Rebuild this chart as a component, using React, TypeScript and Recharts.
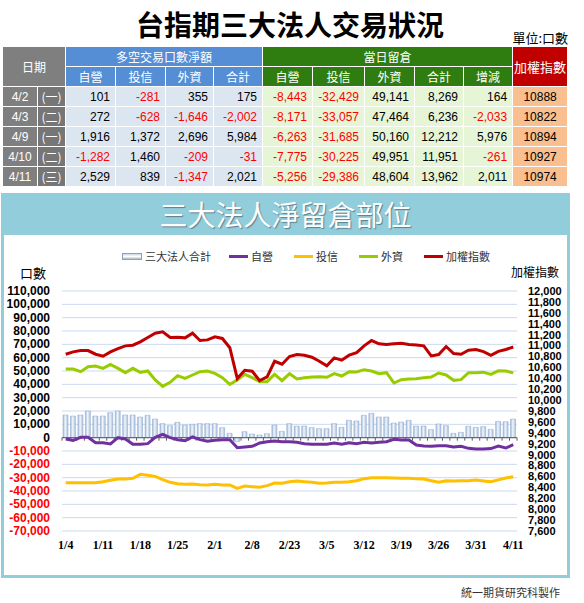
import { ComposedChart, Bar, Line, XAxis, YAxis, CartesianGrid, ReferenceLine } from "recharts"

// table (last five sessions)
const tableDates = ["4/2", "4/3", "4/9", "4/10", "4/11"]
const tableWeekdays = ["(一)", "(二)", "(一)", "(二)", "(三)"]
const netDealer = [101, 272, 1916, -1282, 2529]
const netTrust = [-281, -628, 1372, 1460, 839]
const netForeign = [355, -1646, 2696, -209, -1347]
const netTotal = [175, -2002, 5984, -31, 2021]
const oiDealer = [-8443, -8171, -6263, -7775, -5256]
const oiTrust = [-32429, -33057, -31685, -30225, -29386]
const oiForeign = [49141, 47464, 50160, 49951, 48604]
const oiTotal = [8269, 6236, 12212, 11951, 13962]
const oiChange = [164, -2033, 5976, -261, 2011]
const tableIndex = [10888, 10822, 10894, 10927, 10974]

// chart series, 1/4 .. 4/11
const dates = [
	"1/4", "1/5", "1/8", "1/9", "1/10", "1/11", "1/12", "1/15", "1/16", "1/17",
	"1/18", "1/19", "1/22", "1/23", "1/24", "1/25", "1/26", "1/29", "1/30", "1/31",
	"2/1", "2/2", "2/5", "2/6", "2/7", "2/8", "2/9", "2/12", "2/21", "2/22",
	"2/23", "2/26", "2/27", "3/1", "3/2", "3/5", "3/6", "3/7", "3/8", "3/9",
	"3/12", "3/13", "3/14", "3/15", "3/16", "3/19", "3/20", "3/21", "3/22", "3/23",
	"3/26", "3/27", "3/28", "3/29", "3/30", "3/31", "4/2", "4/3", "4/9", "4/10",
	"4/11",
]
const totalOI = [
	17000, 16250, 17000, 20000, 16250, 16250, 18750, 20000, 17000, 17000,
	15500, 16750, 14000, 10500, 9000, 11500, 9500, 10000, 10500, 10500,
	10500, 7500, 3250, -3000, 4500, 2750, 2000, 3000, 9500, 4750,
	10500, 8750, 8750, 7500, 6750, 6750, 10500, 7750, 13000, 12500,
	16750, 18250, 15500, 15500, 11000, 11750, 13000, 8750, 8750, 6000,
	10250, 9000, 3250, 4000, 8500, 7750, 8269, 6236, 12212, 11951,
	13962,
]
const dealerOI = [
	-1000, -2000, 250, 250, -3750, -3750, -4750, 0, -1000, -5000,
	-5000, -4500, 250, 2500, 0, -1500, -2250, 500, -1500, -2750,
	-2000, -1500, -1500, -7500, -7000, -6500, -4000, -3000, -2500, -3000,
	-3000, -3500, -4500, -5000, -5000, -5000, -4000, -5000, -3750, -4500,
	-3500, -4000, -3500, -3000, -1250, -1750, -1750, -5500, -6250, -6500,
	-6000, -6000, -7000, -6500, -8000, -8500, -8443, -8171, -6263, -7775,
	-5256,
]
const trustOI = [
	-33750, -33750, -33750, -33750, -33750, -33000, -32000, -31000, -31000, -30500,
	-27500, -28250, -29000, -31500, -33500, -34500, -35000, -34750, -35250, -35500,
	-35000, -35500, -35500, -38000, -36250, -36750, -37250, -36000, -34000, -34250,
	-33000, -32500, -33000, -33500, -34250, -34000, -33500, -33500, -33000, -32250,
	-30750, -30000, -30000, -30000, -30250, -30500, -30500, -30750, -31000, -32250,
	-33500, -32250, -32500, -32250, -32250, -31750, -32429, -33057, -31685, -30225,
	-29386,
]
const foreignOI = [
	51500, 51500, 49500, 53250, 53750, 52000, 55000, 52000, 48750, 52000,
	49000, 50000, 43250, 38500, 41500, 46500, 44500, 47000, 49500, 50000,
	48250, 45000, 40000, 43250, 47500, 45000, 42000, 42000, 47500, 42750,
	48000, 44000, 45000, 45500, 45750, 45250, 48000, 46250, 49500, 49250,
	51000, 50000, 48000, 48750, 41000, 43500, 44000, 44250, 45000, 45500,
	48500, 47000, 43000, 43500, 48750, 48750, 49141, 47464, 50160, 49951,
	48604,
]
const taiex = [
	10841, 10884, 10908, 10908, 10841, 10804, 10884, 10945, 10994, 11006,
	11067, 11147, 11226, 11251, 11147, 11153, 11141, 11226, 11092, 11104,
	11159, 11130, 10960, 10394, 10547, 10529, 10357, 10425, 10712, 10657,
	10798, 10835, 10823, 10786, 10712, 10627, 10774, 10731, 10823, 10871,
	10994, 11092, 11031, 11018, 11031, 11043, 11018, 11012, 10994, 10810,
	10835, 10982, 10853, 10841, 10914, 10927, 10888, 10822, 10894, 10927,
	10974,
]

const leftTicks = [
	-70000, -60000, -50000, -40000, -30000, -20000, -10000, 0, 10000, 20000,
	30000, 40000, 50000, 60000, 70000, 80000, 90000, 100000, 110000,
]
const rightTicks = [
	7600, 7800, 8000, 8200, 8400, 8600, 8800, 9000, 9200, 9400, 9600, 9800,
	10000, 10200, 10400, 10600, 10800, 11000, 11200, 11400, 11600, 11800, 12000,
]

const data = dates.map((date, i) => ({
	date,
	total: totalOI[i],
	dealer: dealerOI[i],
	trust: trustOI[i],
	foreign: foreignOI[i],
	index: taiex[i],
}))

const CJK = '"Noto Sans CJK TC", "Noto Sans", sans-serif'
const NUM = '"Liberation Sans", Arial, sans-serif'

const fmt = (v: number) => v.toLocaleString("en-US")

function LeftTick({ x, y, payload }: any) {
	const v = payload.value
	return (
		<text x={x} y={y} dy={4} textAnchor="end" fontSize={12} fontWeight="bold"
			fontFamily={NUM} fill={v < 0 ? "#FF0000" : "#000"}>
			{fmt(v)}
		</text>
	)
}

// zero line with small category tick marks under it
function ZeroAxis(props: any) {
	const { x1, y1, x2 } = props
	const step = (x2 - x1) / dates.length
	return (
		<g>
			<line x1={x1} y1={y1} x2={x2} y2={y1} stroke="#595959" strokeWidth={1} />
			{dates.map((d, k) => (
				<line key={d} x1={x1 + k * step} x2={x1 + k * step} y1={y1} y2={y1 + 3} stroke="#595959" />
			))}
			<line x1={x2} x2={x2} y1={y1} y2={y1 + 3} stroke="#595959" />
		</g>
	)
}

const BLUE = "#558ED5"
const GREEN = "#2F7D10"
const GRAY = "#7F7F7F"
const head = { color: "#fff", textAlign: "center" as const, fontFamily: CJK, fontSize: 12, border: "1px solid #fff", padding: 0 }
const cell = (bg: string, v: number, align: "right" | "center" = "right") => ({
	background: bg,
	color: v < 0 ? "#FF0000" : "#000",
	textAlign: align,
	fontFamily: NUM,
	fontSize: 12,
	padding: "0 5px",
	border: "1px solid #fff",
})

function Table() {
	const netCols = [netDealer, netTrust, netForeign, netTotal]
	const oiCols = [oiDealer, oiTrust, oiForeign, oiTotal, oiChange]
	return (
		<table style={{ position: "absolute", left: 2, top: 46, width: 565, borderCollapse: "collapse", tableLayout: "fixed" }}>
			<colgroup>
				{[35, 28, 50, 50, 48, 49, 50, 52, 50, 49, 49, 55].map((w, i) => <col key={i} style={{ width: w }} />)}
			</colgroup>
			<tbody>
				<tr style={{ height: 20 }}>
					<td rowSpan={2} colSpan={2} style={{ ...head, background: GRAY }}>日期</td>
					<td colSpan={4} style={{ ...head, background: BLUE }}>多空交易口數淨額</td>
					<td colSpan={5} style={{ ...head, background: GREEN }}>當日留倉</td>
					<td rowSpan={2} style={{ ...head, background: "#C00000", fontSize: 13 }}>加權指數</td>
				</tr>
				<tr style={{ height: 20 }}>
					{["自營", "投信", "外資", "合計"].map((t) => <td key={"n" + t} style={{ ...head, background: BLUE }}>{t}</td>)}
					{["自營", "投信", "外資", "合計", "增減"].map((t) => <td key={"o" + t} style={{ ...head, background: GREEN }}>{t}</td>)}
				</tr>
				{tableDates.map((d, r) => (
					<tr key={d} style={{ height: 20 }}>
						<td style={{ ...head, background: GRAY, fontFamily: NUM, fontSize: 12 }}>{d}</td>
						<td style={{ ...head, background: "#767676", fontSize: 12 }}>{tableWeekdays[r]}</td>
						{netCols.map((c, k) => <td key={"n" + k} style={cell("#DCE6F1", c[r])}>{fmt(c[r])}</td>)}
						{oiCols.map((c, k) => <td key={"o" + k} style={cell("#E6F5D6", c[r])}>{fmt(c[r])}</td>)}
						<td style={cell("#F9BF8F", tableIndex[r], "center")}>{String(tableIndex[r])}</td>
					</tr>
				))}
			</tbody>
		</table>
	)
}

const legendItems = [
	{ name: "自營", color: "#7030A0" },
	{ name: "投信", color: "#FFC000" },
	{ name: "外資", color: "#99CC00" },
	{ name: "加權指數", color: "#C00000" },
]

export default function App() {
	return (
		<div style={{ position: "absolute", left: 0, top: 0, width: 584, height: 603, background: "#fff", overflow: "hidden" }}>
			<div style={{ position: "absolute", left: 0, top: 6, width: 580, textAlign: "center", fontFamily: CJK, fontWeight: 700, fontSize: 28, lineHeight: "36px", color: "#000" }}>
				台指期三大法人交易狀況
			</div>
			<div style={{ position: "absolute", right: 16, top: 28, fontFamily: CJK, fontSize: 13, color: "#000" }}>單位:口數</div>
			<Table />

			<div style={{ position: "absolute", left: 1, top: 193, width: 569, height: 385, background: "#92CDDC" }}>
				<div style={{ position: "absolute", left: 0, right: 0, top: 0, height: 42, lineHeight: "42px", textAlign: "center", color: "#fff", fontFamily: CJK, fontSize: 28, textShadow: "1px 1px 1px #5a7f8c" }}>
					三大法人淨留倉部位
				</div>
				<div style={{ position: "absolute", left: 3, right: 3, top: 42, bottom: 3, background: "#fff" }} />
			</div>

			<div style={{ position: "absolute", left: 122, top: 249, display: "flex", alignItems: "center", fontFamily: CJK, fontSize: 11, color: "#333", lineHeight: "14px" }}>
				<span style={{ width: 18, height: 5, border: "1px solid #8FA0B8", background: "linear-gradient(#c9d6e6, #ffffff, #a9b9cc)", marginRight: 3 }} />
				<span style={{ marginRight: 18 }}>三大法人合計</span>
				{legendItems.map((it) => (
					<span key={it.name} style={{ display: "flex", alignItems: "center", marginRight: 21 }}>
						<span style={{ width: 19, height: 3, background: it.color, marginRight: 3 }} />
						{it.name}
					</span>
				))}
			</div>
			<div style={{ position: "absolute", left: 20, top: 263, fontFamily: CJK, fontSize: 13, color: "#000" }}>口數</div>
			<div style={{ position: "absolute", left: 511, top: 263, fontFamily: CJK, fontSize: 12, color: "#000" }}>加權指數</div>

			<div style={{ position: "absolute", left: 0, top: 240 }}>
				<ComposedChart width={584} height={320} data={data} margin={{ top: 51, right: 0, bottom: 0, left: 0 }}>
					<defs>
						<linearGradient id="barGrad" x1="0" y1="0" x2="1" y2="0">
							<stop offset="0%" stopColor="#9DB7D9" />
							<stop offset="45%" stopColor="#F2F6FB" />
							<stop offset="100%" stopColor="#A6BEDD" />
						</linearGradient>
					</defs>
					<CartesianGrid yAxisId="left" vertical={false} stroke="#C9DAF0" strokeWidth={1} />
					<XAxis dataKey="date" interval={4} height={29} tickSize={0} tickMargin={9} axisLine={false} tickLine={false}
						tick={{ fontFamily: '"Liberation Serif", "Times New Roman", serif', fontWeight: "bold", fontSize: 12, fill: "#000" }} />
					<YAxis yAxisId="left" width={62} domain={[-70000, 110000]} ticks={leftTicks} interval={0}
						axisLine={false} tickLine={false} tickSize={0} tickMargin={12} tick={<LeftTick />} />
					<YAxis yAxisId="right" orientation="right" width={67} domain={[7600, 12000]} ticks={rightTicks} interval={0}
						axisLine={false} tickLine={false} tickSize={0} tickMargin={11} tickFormatter={fmt}
						tick={{ fontFamily: NUM, fontWeight: "bold", fontSize: 11, fill: "#000" }} />
					<Bar yAxisId="left" dataKey="total" barSize={5} fill="url(#barGrad)" stroke="#8FA9CC" strokeWidth={0.5} isAnimationActive={false} />
					<ReferenceLine yAxisId="left" y={0} shape={ZeroAxis} />
					<Line yAxisId="left" dataKey="dealer" stroke="#7030A0" strokeWidth={3} dot={false} activeDot={false} isAnimationActive={false} />
					<Line yAxisId="left" dataKey="trust" stroke="#FFC000" strokeWidth={3} dot={false} activeDot={false} isAnimationActive={false} />
					<Line yAxisId="left" dataKey="foreign" stroke="#99CC00" strokeWidth={3} dot={false} activeDot={false} isAnimationActive={false} />
					<Line yAxisId="right" dataKey="index" stroke="#C00000" strokeWidth={3} dot={false} activeDot={false} isAnimationActive={false} />
				</ComposedChart>
			</div>

			<div style={{ position: "absolute", right: 24, top: 584, fontFamily: CJK, fontSize: 11, color: "#333" }}>統一期貨研究科製作</div>
		</div>
	)
}
